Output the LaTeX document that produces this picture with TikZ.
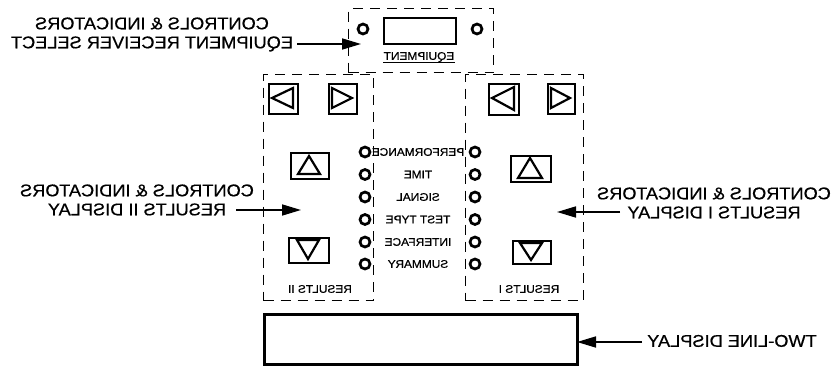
\documentclass[tikz,border=0pt]{standalone}
\usepackage{fontspec}
\setmainfont{Liberation Sans}
\newfontfamily\boldish{Liberation Sans}[FakeBold=0.6]
\usetikzlibrary{arrows.meta}
\newcommand\mirbig[1]{\scalebox{-1.07}[1]{\begin{tabular}{@{}c@{}}#1\end{tabular}}}
\newcommand\mirsm[1]{\scalebox{-1.08}[1]{#1}}
\tikzset{
  dbox/.style={draw, line width=1.4pt, dash pattern=on 10pt off 7pt, anchor=north west, inner sep=0pt},
  btn/.style={draw, line width=2.2pt, anchor=north west, inner sep=0pt},
  tri/.style={draw, line width=2.2pt, line join=miter},
  led/.style={draw, circle, line width=2.7pt, minimum size=10pt, inner sep=0pt},
  biglbl/.style={font=\boldish\fontsize{17}{19}\selectfont, inner sep=0pt},
  smlbl/.style={font=\boldish\fontsize{11}{13}\selectfont, inner sep=0pt},
  arr/.style={line width=1.7pt, -{Triangle[length=19pt,width=11pt]}},
}
\begin{document}
\begin{tikzpicture}[x=1pt,y=-1pt]
\useasboundingbox (0,0) rectangle (833,369);
% equipment panel
\node[dbox, minimum width=145pt, minimum height=64pt] (equip) at (348,8) {};
\node[btn, line width=1.6pt, minimum width=72pt, minimum height=26pt] (equipwin) at (383,17) {};
\node[led] (eqledL) at (363,29) {};
\node[led] (eqledR) at (477,29) {};
\node[smlbl] (eqtxt) at (419,57) {\mirsm{EQUIPMENT}};
\draw[line width=1pt] (eqtxt.south east) -- (eqtxt.south west);
% results II panel (left)
\node[dbox, minimum width=110pt, minimum height=226pt] (resII) at (263,74) {};
\node[btn, minimum width=29pt, minimum height=30pt] (IIleft) at (268,83) {};
\node[btn, minimum width=28pt, minimum height=30pt] (IIright) at (328,83) {};
\node[btn, minimum width=38pt, minimum height=26pt] (IIup) at (290,152) {};
\node[btn, minimum width=40pt, minimum height=25pt] (IIdown) at (288,237) {};
\draw[tri] (272,98) -- (293,88) -- (293,108) -- cycle;
\draw[tri] (352,98) -- (332,88) -- (332,108) -- cycle;
\draw[tri] (309,156) -- (320,174) -- (298,174) -- cycle;
\draw[tri] (308,259) -- (319,240) -- (297,240) -- cycle;
\node[smlbl] (IItxt) at (320,289) {\mirsm{RESULTS II}};
% results I panel (right)
\node[dbox, minimum width=118pt, minimum height=226pt] (resI) at (465,74) {};
\node[btn, minimum width=30pt, minimum height=31pt] (Ileft) at (488,83) {};
\node[btn, minimum width=27pt, minimum height=30pt] (Iright) at (547,83) {};
\node[btn, minimum width=40pt, minimum height=26pt] (Iup) at (510,155) {};
\node[btn, minimum width=38pt, minimum height=23pt] (Idown) at (512,240) {};
\draw[tri] (492,98) -- (514,87) -- (514,110) -- cycle;
\draw[tri] (570,98) -- (551,88) -- (551,108) -- cycle;
\draw[tri] (530,158) -- (542,178) -- (518,178) -- cycle;
\draw[tri] (531,260) -- (542,243) -- (520,243) -- cycle;
\node[smlbl] (Itxt) at (529,289) {\mirsm{RESULTS I}};
% indicator rows
\foreach \y/\t/\n in {152/PERFORMANCE/a,174.5/TIME/b,197/SIGNAL/c,219.5/TEST TYPE/d,242/INTERFACE/e,264/SUMMARY/f}{
  \node[led] (ledL\n) at (365,\y) {};
  \node[led] (ledR\n) at (475,\y) {};
  \node[smlbl] (row\n) at (418,\y) {\mirsm{\t}};
}
% two-line display
\node[btn, line width=2.8pt, minimum width=313pt, minimum height=50pt] (display) at (263,313) {};
% callouts
\node[biglbl] (calEq) at (152,35) {\mirbig{CONTROLS \& INDICATORS\\EQUIPMENT RECEIVER SELECT}};
\coordinate (calEqS) at (297,44);
\coordinate (calEqT) at (361,44);
\draw[arr] (calEqS) -- (calEqT);
\node[biglbl] (calII) at (137,202) {\mirbig{CONTROLS \& INDICATORS\\RESULTS II DISPLAY}};
\coordinate (calIIS) at (236,210);
\coordinate (calIIT) at (301,210);
\draw[arr] (calIIS) -- (calIIT);
\node[biglbl] (calI) at (714,205) {\mirbig{CONTROLS \& INDICATORS\\RESULTS I DISPLAY}};
\coordinate (calIS) at (620,212);
\coordinate (calIT) at (557,212);
\draw[arr] (calIS) -- (calIT);
\node[biglbl] (calD) at (732,343) {\mirbig{TWO-LINE DISPLAY}};
\coordinate (calDS) at (642,342);
\coordinate (calDT) at (577,342);
\draw[arr] (calDS) -- (calDT);
\end{tikzpicture}
\end{document}
